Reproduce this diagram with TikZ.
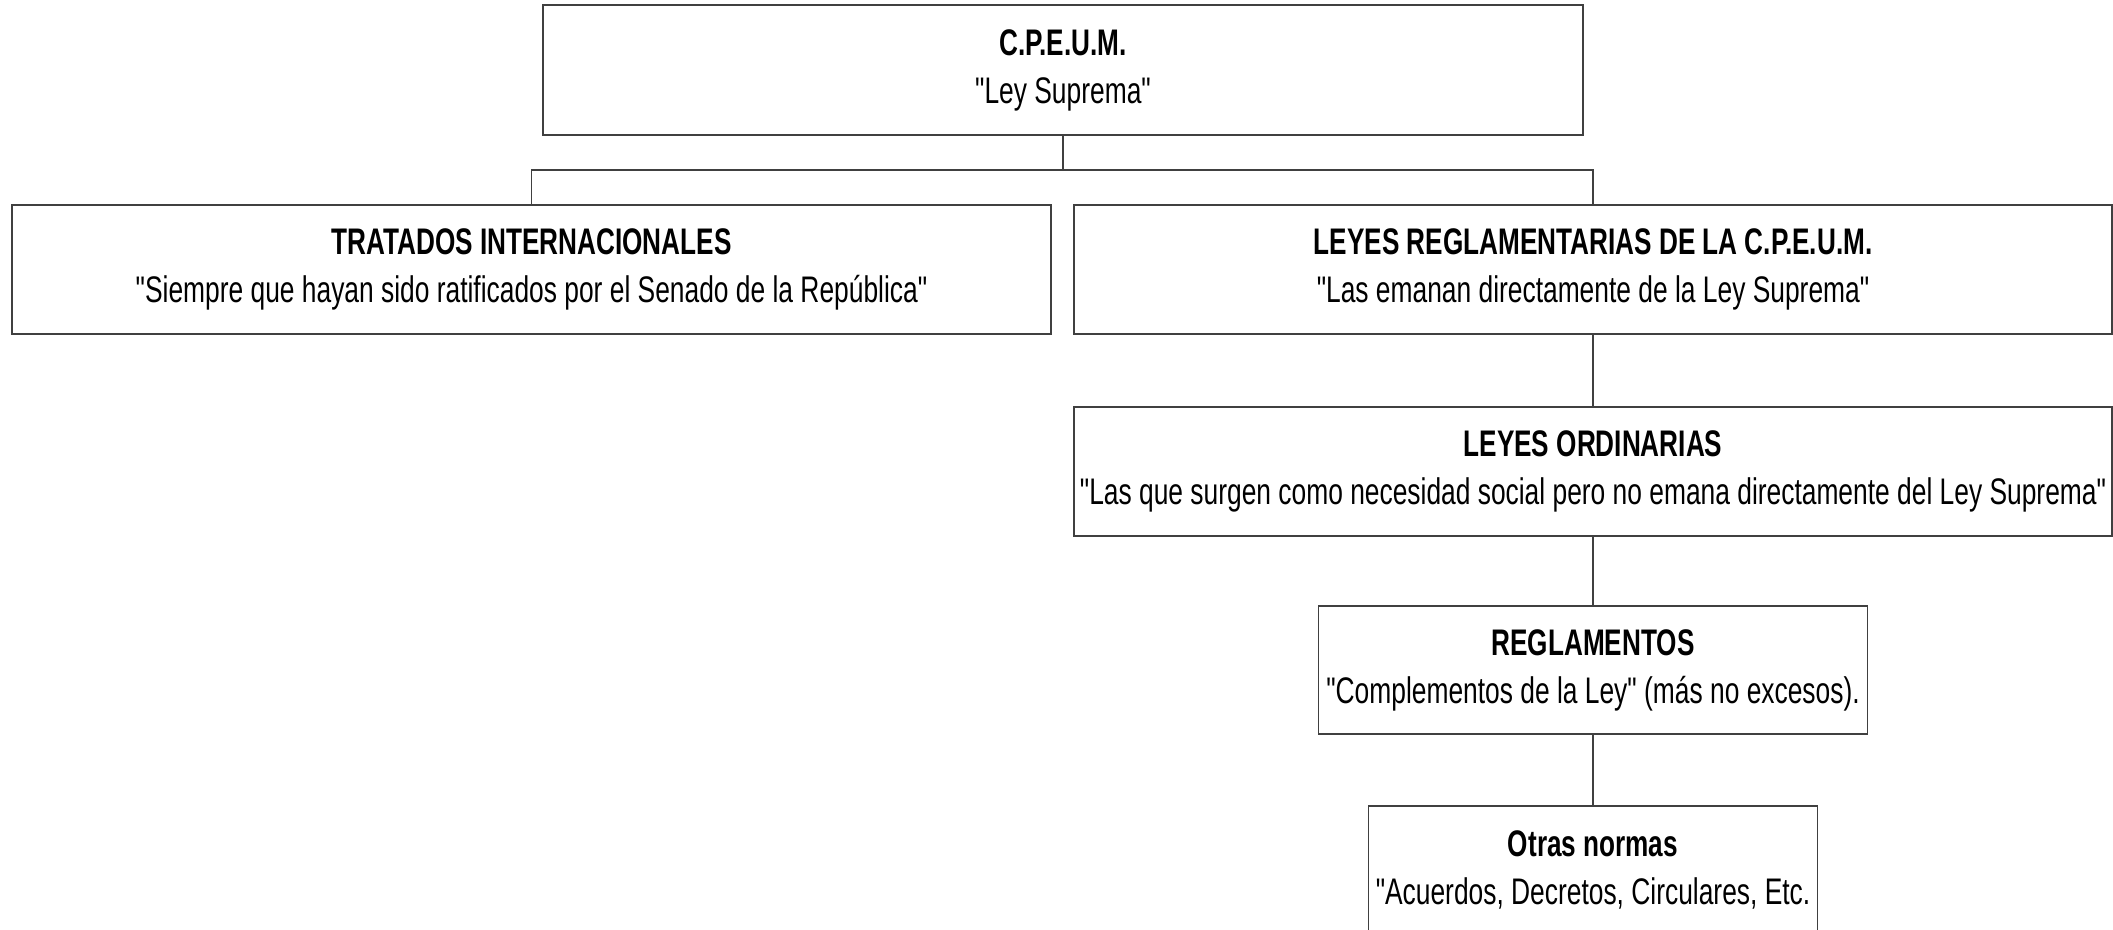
\documentclass[tikz,border=0pt]{standalone}
\usepackage{fontspec}
\setmainfont[Ligatures=TeXOff, FakeStretch=0.713,
  BoldFeatures={FakeStretch=0.707}]{Liberation Sans}

\begin{document}
\begin{tikzpicture}[x=0.5pt, y=-0.5pt,
  normbox/.style = {shape=rectangle, draw=black!75, line width=0.6pt,
    align=center, inner sep=0pt, fill=white,
    font=\fontsize{18.5}{24}\selectfont},
  link/.style = {draw=black!75, line width=0.6pt}]
  \useasboundingbox (0,0) rectangle (2113,930);

  \node[normbox, minimum width=520pt, minimum height=65pt] (cpeum) at (1063,70)
    {\textbf{C.P.E.U.M.}\\"Ley Suprema"};
  \node[normbox, minimum width=519.5pt, minimum height=64.5pt] (tratados) at (531.5,269.5)
    {\textbf{TRATADOS INTERNACIONALES}\\"Siempre que hayan sido ratificados por el Senado de la República"};
  \node[normbox, minimum width=519pt, minimum height=64.5pt] (leyesreg) at (1593,269.5)
    {\textbf{LEYES REGLAMENTARIAS DE LA C.P.E.U.M.}\\"Las emanan directamente de la Ley Suprema"};
  \node[normbox, minimum width=519pt, minimum height=64.5pt] (leyesord) at (1593,471.5)
    {\textbf{LEYES ORDINARIAS}\\"Las que surgen como necesidad social pero no emana directamente del Ley Suprema"};
  \node[normbox, minimum width=274.5pt, minimum height=64pt] (reglamentos) at (1593,670)
    {\textbf{REGLAMENTOS}\\"Complementos de la Ley" (más no excesos).};
  \node[normbox, minimum width=224.5pt, minimum height=64pt] (otras) at (1593,870)
    {\textbf{Otras normas}\\"Acuerdos, Decretos, Circulares, Etc.};

  \coordinate (bus) at (1063,170);
  \draw[link] (cpeum.south) -- (bus);
  \draw[link] (tratados.north) |- (bus) -| (leyesreg.north);
  \draw[link] (leyesreg) -- (leyesord);
  \draw[link] (leyesord) -- (reglamentos);
  \draw[link] (reglamentos) -- (otras);

\end{tikzpicture}
\end{document}
